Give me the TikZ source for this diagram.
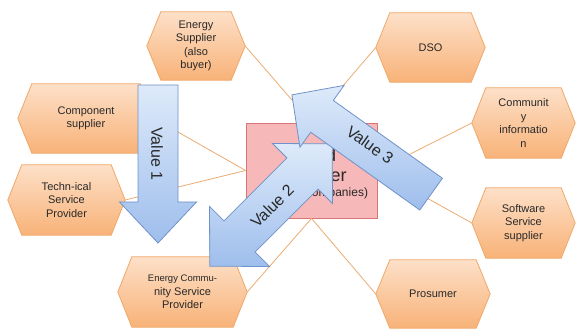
\documentclass[tikz,border=0pt]{standalone}
\usepackage{fontspec}
\setmainfont{Liberation Sans}
\usetikzlibrary{calc}
\pgfdeclarelayer{bg}
\pgfdeclarelayer{paper}
\pgfsetlayers{paper,bg,main}
\definecolor{hexline}{RGB}{240,168,105}
\definecolor{hextop}{RGB}{253,224,200}
\definecolor{hexbot}{RGB}{248,178,120}
\definecolor{connc}{RGB}{236,172,115}
\definecolor{boxfill}{RGB}{246,184,184}
\definecolor{boxline}{RGB}{214,118,118}
\definecolor{arrline}{RGB}{112,146,200}
\definecolor{arrtop}{RGB}{222,234,250}
\definecolor{arrbot}{RGB}{158,190,236}
\definecolor{txt}{RGB}{40,40,40}
\tikzset{
  hextext/.style={inner sep=0pt, align=center, font=\fontsize{11}{13.5}\selectfont, text=txt},
  hexshape/.style={draw=hexline, line width=0.8pt, top color=hextop, bottom color=hexbot},
  connline/.style={draw=connc, line width=0.8pt},
  valarrow/.style={draw=arrline, line width=0.8pt, top color=arrtop, bottom color=arrbot},
  vallabel/.style={font=\fontsize{16}{18}\selectfont, text=txt, inner sep=0pt},
  centerbox/.style={draw=boxline, line width=0.8pt, fill=boxfill, inner sep=0pt},
  boxbig/.style={anchor=base, font=\fontsize{18}{20}\selectfont, text=txt, inner sep=0pt},
  boxsmall/.style={anchor=base, font=\fontsize{12}{14}\selectfont, text=txt, inner sep=0pt}
}
\newcommand{\hexnode}[5]{%
  \node[hextext, minimum width=#3, minimum height=#4] (#1) at (#2) {#5};
  \begin{pgfonlayer}{bg}
    \path[hexshape] (#1.west) -- ([xshift=14pt]#1.north west) -- ([xshift=-14pt]#1.north east)
      -- (#1.east) -- ([xshift=-14pt]#1.south east) -- ([xshift=14pt]#1.south west) -- cycle;
  \end{pgfonlayer}}
% center, angle, half length, shaft half width, head half width, head length
\newcommand{\singlearr}[6]{%
  \begin{scope}[shift={(#1)}, rotate=#2]
    \path[valarrow] (-#3,-#4) -- ({#3-#6},-#4) -- ({#3-#6},-#5) -- (#3,0) -- ({#3-#6},#5)
      -- ({#3-#6},#4) -- (-#3,#4) -- cycle;
  \end{scope}}
\newcommand{\doublearr}[6]{%
  \begin{scope}[shift={(#1)}, rotate=#2]
    \path[valarrow] ({-#3+#6},-#4) -- ({#3-#6},-#4) -- ({#3-#6},-#5) -- (#3,0) -- ({#3-#6},#5)
      -- ({#3-#6},#4) -- ({-#3+#6},#4) -- ({-#3+#6},#5) -- (-#3,0) -- ({-#3+#6},-#5) -- cycle;
  \end{scope}}
\begin{document}
\begin{tikzpicture}[x=1pt,y=1pt]
\begin{pgfonlayer}{paper}
\fill[white] (0,0) rectangle (576,329);
\end{pgfonlayer}
\useasboundingbox (0,0) rectangle (576,329);
% hexagons
\hexnode{esp}{196,283}{98pt}{68pt}{Energy\\Supplier\\(also\\buyer)}
\hexnode{dso}{430.5,281.5}{109pt}{69pt}{DSO}
\hexnode{comm}{523.5,206}{103pt}{70pt}{Communit\\y\\informatio\\n}
\hexnode{soft}{523.5,106}{103pt}{70pt}{Software\\Service\\supplier}
\hexnode{pros}{433,35}{114pt}{68pt}{Prosumer}
\hexnode{comp}{86,210.5}{136pt}{69pt}{Component\\supplier}
\hexnode{tech}{66.5,129}{117pt}{70pt}{Techn-ical\\Service\\Provider}
\hexnode{ecsp}{182.5,37}{129pt}{70pt}{\fontsize{9.5}{11.5}\selectfont Energy Commu-\\nity Service\\Provider}
% central box
\node[centerbox, minimum width=131pt, minimum height=95pt] (box) at (311.5,158.5) {};
\node[boxbig] (t1) at (316,167) {Lead};
\node[boxbig] (t2) at (317,147) {Partner};
\node[boxsmall] (t3) at (315,132) {(energy companies)};
% connectors
\draw[connline] (esp.east) -- (box.north);
\draw[connline] (dso.west) -- (box.north);
\draw[connline] (comm.west) -- (box.east);
\draw[connline] (soft.west) -- (box.east);
\draw[connline] (pros.west) -- (box.south);
\draw[connline] (ecsp.east) -- (box.south);
\draw[connline] (comp.east) -- (box.west);
\draw[connline] (tech.east) -- (box.west);
% value arrows
\singlearr{158,165}{-90}{79}{20}{38.5}{41}
\node[vallabel, rotate=-90] (v1) at (157,175) {Value 1};
\doublearr{271,124}{45}{86.5}{22}{42.5}{42}
\node[vallabel, rotate=45] (v2) at (272,123) {Value 2};
\singlearr{361.5,184.5}{144.5}{85.5}{19.5}{38}{37}
\node[vallabel, rotate=-35.5] (v3) at (370,184) {Value 3};
\end{tikzpicture}
\end{document}
